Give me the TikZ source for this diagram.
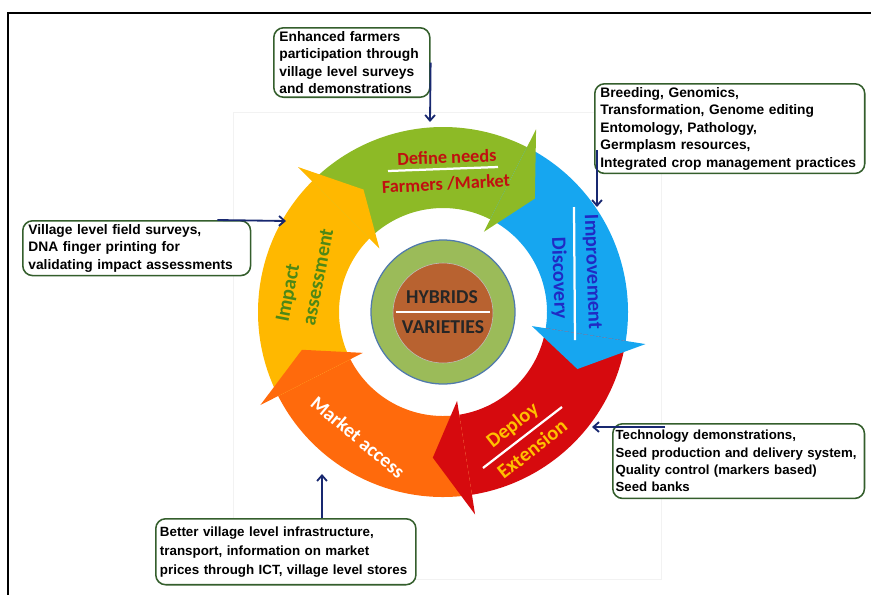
\documentclass[tikz,border=0pt]{standalone}
\usepackage{fontspec}
\setmainfont{Liberation Sans}
\newfontfamily\calib{Carlito}
\usetikzlibrary{arrows.meta}

\definecolor{cGreen}{RGB}{141,186,38}
\definecolor{cBlue}{RGB}{22,166,240}
\definecolor{cRed}{RGB}{214,10,14}
\definecolor{cOrange}{RGB}{255,106,12}
\definecolor{cYellow}{RGB}{255,184,0}
\definecolor{boxline}{RGB}{52,94,44}
\definecolor{navy}{RGB}{24,40,112}
\definecolor{hubgreen}{RGB}{155,187,89}
\definecolor{hubline}{RGB}{80,122,172}
\definecolor{hubbrown}{RGB}{184,98,48}
\definecolor{txtred}{RGB}{192,16,16}
\definecolor{txtblue}{RGB}{32,42,196}
\definecolor{txtgold}{RGB}{255,192,0}
\definecolor{txtgreen}{RGB}{78,136,22}

\begin{document}
\begin{tikzpicture}[x=0.025cm, y=0.025cm, line width=0.5pt]

  \tikzset{
    info/.style = {draw=boxline, line width=1.1pt, rounded corners=7pt,
                   fill=white, align=left, anchor=north west,
                   inner xsep=4pt, inner ysep=2.5pt,
                   font=\bfseries\fontsize{9.8}{12.4}\selectfont},
    lead/.style = {navy, line width=1.3pt,
                   -{Straight Barb[length=4pt,width=7pt]}},
    lbl/.style  = {font=\calib\bfseries\fontsize{14.5}{16}\selectfont,
                   inner sep=0pt},
    bar/.style  = {white, line width=1.6pt},
  }

  \def\Rout{185}                   % outer radius of the ring
  \def\Rin{104}                    % inner radius of the ring
  \def\Rmid{146}                   % where the heads point

  \useasboundingbox (0,0) rectangle (871,-594);

  % ---- frame and pasted picture ------------------------------------------
  \draw[line width=2pt] (8,-610) -- (8,-13) -- (885,-13);
  \draw[black!5] (233,-112) rectangle (661,-579);

  % ---- the cycle ---------------------------------------------------------
  \begin{scope}[shift={(443,-312)}]
    \foreach \col/\a/\b in {cGreen/135/63, cBlue/63/-9, cRed/-9/-81,
                            cOrange/-81/-153, cYellow/-153/-225} {
      \fill[\col] (\a:\Rout) arc[start angle=\a, end angle=\b, radius=\Rout]
        -- (\b:\Rin) arc[start angle=\b, end angle=\a, radius=\Rin] -- cycle;
    }
    \foreach \col/\b/\t in {cGreen/63/51, cBlue/-9/-23, cRed/-81/-94,
                            cOrange/-153/-165, cYellow/-225/-237} {
      \fill[\col] (\b:205) -- (\t:\Rmid) -- (\b:90) -- cycle;
    }
  \end{scope}

  % hub
  \node[circle, fill=hubgreen, draw=hubline, line width=0.9pt,
        minimum size=144*0.025cm, inner sep=0pt] (hub) at (443,-312) {};
  \node[circle, fill=hubbrown, draw=black!25, line width=0.4pt,
        minimum size=100*0.025cm, inner sep=0pt] (core) at (443,-313) {};
  \draw[bar] (core.west) ++(3,1) -- ++(94,0);
  \node[lbl, black!85, font=\calib\bfseries\fontsize{14}{16}\selectfont]
    (hyb) at (442,-297) {HYBRIDS};
  \node[lbl, black!85, font=\calib\bfseries\fontsize{14}{16}\selectfont]
    (var) at (443,-327) {VARIETIES};

  % ---- labels on the arrows ----------------------------------------------
  \node[lbl, txtred, rotate=2, font=\calib\bfseries\fontsize{13}{15}\selectfont]
    (needs) at (447,-157) {Define needs};
  \draw[bar] (388,-171) -- (498,-167);
  \node[lbl, txtred, rotate=3, font=\calib\bfseries\fontsize{13}{15}\selectfont]
    (farm) at (446,-184) {Farmers /Market};

  \node[lbl, txtblue, rotate=-88] (impr) at (592,-272) {Improvement};
  \draw[bar] (574,-207) -- (575,-340);
  \node[lbl, txtblue, rotate=-88] (disc) at (559,-278) {Discovery};

  \node[lbl, txtgold, rotate=38] (depl) at (513,-426) {Deploy};
  \draw[bar] (483,-468) -- (562,-407);
  \node[lbl, txtgold, rotate=38] (ext) at (532,-449) {Extension};

  \node[lbl, white, rotate=-40, font=\calib\bfseries\fontsize{14}{16}\selectfont]
    (mkt) at (358,-437) {Market access};

  \node[lbl, txtgreen, rotate=79] (imp) at (289,-293) {Impact};
  \node[lbl, txtgreen, rotate=79] (ass) at (318,-277) {assessment};

  % ---- the five notes ----------------------------------------------------
  \node[info, text width=103pt] (n_needs) at (273,-27)
    {Enhanced farmers\\participation through\\village level surveys\\and demonstrations};
  \node[info, text width=184pt] (n_impr) at (594,-83)
    {Breeding, Genomics,\\Transformation, Genome editing\\Entomology, Pathology,\\Germplasm resources,\\Integrated crop management practices};
  \node[info, text width=154pt] (n_imp) at (22,-220)
    {Village level field surveys,\\DNA finger printing for\\validating impact assessments};
  \node[info, text width=175pt, inner xsep=2pt, inner ysep=4.5pt,
        font=\bfseries\fontsize{9.4}{12.4}\selectfont] (n_depl) at (612,-423)
    {Technology demonstrations,\\Seed production and delivery system,\\Quality control (markers based)\\Seed banks};
  \node[info, text width=179pt, inner xsep=3pt, inner ysep=5.5pt,
        font=\bfseries\fontsize{9.5}{13.5}\selectfont]
    (n_mkt) at (155,-518)
    {Better village level infrastructure,\\transport, information on market\\prices through ICT, village level stores};

  % ---- leads into the ring -----------------------------------------------
  \coordinate (t1) at (430,-122);
  \coordinate (t2) at (597,-207);
  \coordinate (t3) at (286,-221);
  \coordinate (t4) at (592,-427);
  \coordinate (t5) at (322,-474);

  \draw[lead] (n_needs.east) -- (t1);
  \draw[lead] ([shift={(3,24)}]n_impr.south west) -- (t2);
  \draw[lead] ([xshift=-34*0.025cm]n_imp.north east) -- (t3);
  \draw[lead] ([shift={(53,-4)}]n_depl.north west) -- (t4);
  \draw[lead] ([xshift=167*0.025cm]n_mkt.north west) -- (t5);

\end{tikzpicture}
\end{document}
